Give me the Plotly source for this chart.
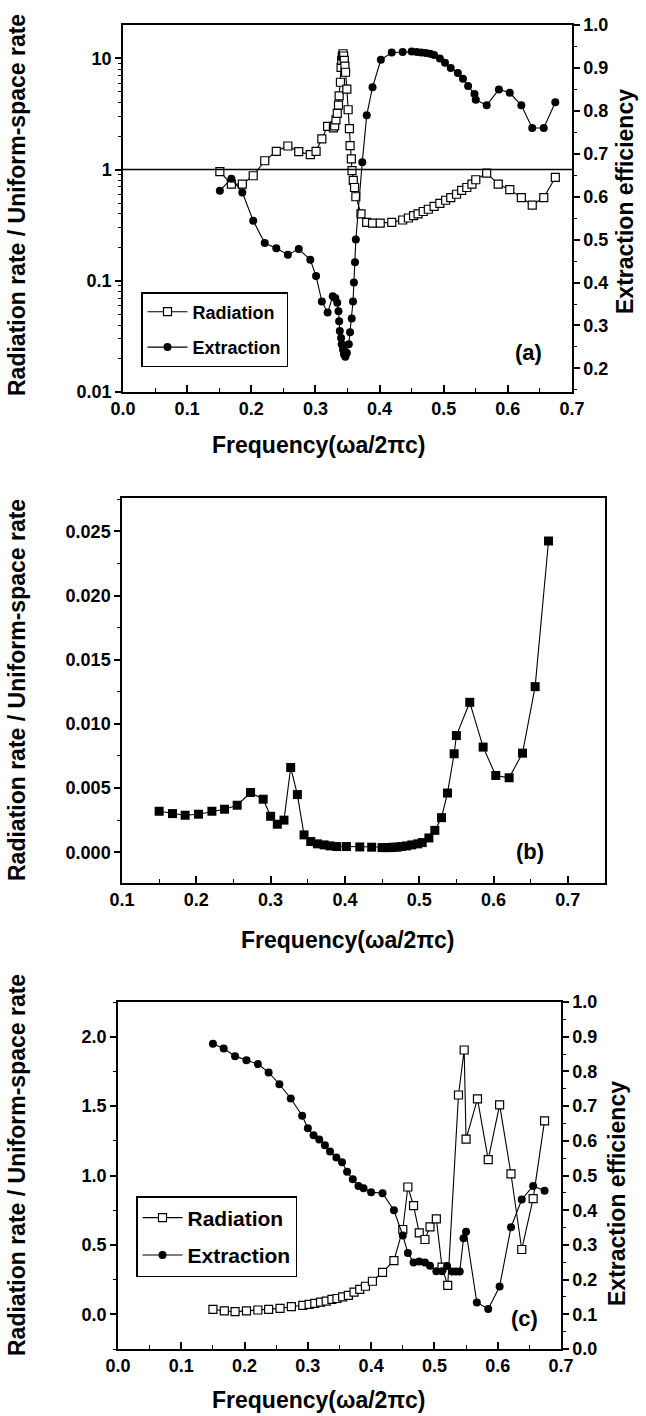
import plotly.graph_objects as go

# ---------------- data ----------------
# panel (a): radiation rate (log, left) and extraction efficiency (right)
rad_a_freq = [0.151, 0.169, 0.186, 0.203, 0.221, 0.239, 0.257, 0.274, 0.292, 0.301,
              0.310, 0.319, 0.328, 0.330, 0.332, 0.334, 0.336, 0.337, 0.339, 0.340,
              0.341, 0.342, 0.343, 0.344, 0.345, 0.346, 0.347, 0.349, 0.351, 0.353,
              0.354, 0.356, 0.357, 0.359, 0.361, 0.363,
              0.371, 0.380, 0.389, 0.401, 0.419, 0.436, 0.445, 0.453, 0.460, 0.468,
              0.476, 0.485, 0.494, 0.503, 0.511, 0.520, 0.528, 0.536, 0.544, 0.550,
              0.567, 0.585, 0.603, 0.621, 0.638, 0.656, 0.674]
rad_a = [0.96, 0.74, 0.74, 0.88, 1.20, 1.46, 1.63, 1.45, 1.36, 1.46,
         1.89, 2.45, 2.37, 2.47, 2.80, 3.20, 3.80, 4.60, 6.10, 8.30,
         9.60, 10.5, 11.0, 10.5, 9.6, 8.5, 7.5, 5.30, 3.45, 2.33,
         1.64, 1.25, 0.98, 0.80, 0.69, 0.57,
         0.40, 0.335, 0.33, 0.33, 0.335, 0.352, 0.367, 0.385, 0.40, 0.42,
         0.44, 0.467, 0.497, 0.53, 0.56, 0.60, 0.65, 0.69, 0.74, 0.81,
         0.93, 0.74, 0.66, 0.56, 0.48, 0.56, 0.85]

ext_a_freq = [0.151, 0.169, 0.186, 0.203, 0.221, 0.239, 0.257, 0.274, 0.292, 0.301,
              0.310, 0.319, 0.327, 0.331, 0.334, 0.336, 0.337, 0.338, 0.340, 0.341,
              0.343, 0.3445, 0.3466, 0.349, 0.352, 0.354, 0.3566, 0.3586, 0.360, 0.3617,
              0.363, 0.373, 0.380, 0.389, 0.402, 0.419, 0.436, 0.450, 0.458, 0.465,
              0.472, 0.479, 0.485, 0.494, 0.502, 0.511, 0.522, 0.530, 0.538, 0.548,
              0.550, 0.567, 0.586, 0.603, 0.621, 0.638, 0.656, 0.674]
ext_a = [0.614, 0.642, 0.610, 0.544, 0.492, 0.480, 0.465, 0.478, 0.453, 0.415,
         0.356, 0.330, 0.368, 0.364, 0.353, 0.333, 0.310, 0.287, 0.271, 0.256,
         0.244, 0.233, 0.227, 0.236, 0.256, 0.284, 0.316, 0.356, 0.400, 0.447,
         0.500, 0.680, 0.790, 0.855, 0.919, 0.936, 0.937, 0.938, 0.937, 0.936,
         0.935, 0.933, 0.930, 0.922, 0.912, 0.900, 0.888, 0.875, 0.858, 0.839,
         0.826, 0.813, 0.850, 0.842, 0.813, 0.760, 0.760, 0.820]

# panel (b): radiation rate
rad_b_freq = [0.150, 0.168, 0.185, 0.203, 0.221, 0.238, 0.255, 0.273, 0.290, 0.300,
              0.309, 0.318, 0.327, 0.336, 0.345, 0.354, 0.363, 0.372, 0.380, 0.389,
              0.402, 0.420, 0.436, 0.450, 0.455, 0.460, 0.465, 0.470, 0.476, 0.483,
              0.490, 0.498, 0.504, 0.513, 0.521, 0.530, 0.538, 0.547, 0.550, 0.568,
              0.586, 0.603, 0.621, 0.639, 0.656, 0.674]
rad_b = [0.00319, 0.00301, 0.00288, 0.00296, 0.00319, 0.00335, 0.00366, 0.00465, 0.00413, 0.00280,
         0.00218, 0.00250, 0.00660, 0.00449, 0.00135, 0.00083, 0.00065, 0.00057, 0.00049, 0.00044,
         0.00044, 0.00041, 0.00039, 0.00036, 0.00036, 0.00036, 0.00039, 0.00039, 0.00044, 0.00049,
         0.00057, 0.00065, 0.00075, 0.00111, 0.00170, 0.00269, 0.00461, 0.00767, 0.00909, 0.01168,
         0.00819, 0.00598, 0.00580, 0.00772, 0.01290, 0.02425]

# panel (c): radiation rate (left) and extraction efficiency (right)
rad_c_freq = [0.150, 0.168, 0.185, 0.203, 0.221, 0.238, 0.256, 0.274, 0.292, 0.302,
              0.311, 0.320, 0.329, 0.338, 0.346, 0.355, 0.364, 0.373, 0.382, 0.391,
              0.402, 0.418, 0.436, 0.450, 0.458, 0.467, 0.476, 0.485, 0.493, 0.503,
              0.512, 0.521, 0.538, 0.547, 0.550, 0.568, 0.585, 0.603, 0.621, 0.638,
              0.656, 0.674]
rad_c = [0.036, 0.024, 0.019, 0.024, 0.031, 0.036, 0.043, 0.055, 0.064, 0.071,
         0.079, 0.088, 0.095, 0.107, 0.114, 0.126, 0.136, 0.160, 0.179, 0.202,
         0.238, 0.302, 0.386, 0.611, 0.917, 0.783, 0.587, 0.539, 0.630, 0.687,
         0.340, 0.208, 1.580, 1.904, 1.262, 1.552, 1.114, 1.509, 1.011, 0.467,
         0.834, 1.394]

ext_c_freq = [0.150, 0.167, 0.185, 0.203, 0.221, 0.238, 0.255, 0.273, 0.291, 0.300,
              0.309, 0.318, 0.327, 0.335, 0.345, 0.354, 0.362, 0.371, 0.380, 0.388,
              0.400, 0.418, 0.436, 0.450, 0.458, 0.467, 0.476, 0.485, 0.493, 0.503,
              0.512, 0.520, 0.528, 0.534, 0.540, 0.546, 0.550, 0.567, 0.585, 0.603,
              0.621, 0.638, 0.656, 0.674]
ext_c = [0.880, 0.866, 0.844, 0.832, 0.821, 0.797, 0.763, 0.722, 0.672, 0.636,
         0.616, 0.604, 0.587, 0.569, 0.552, 0.538, 0.511, 0.489, 0.470, 0.463,
         0.452, 0.449, 0.400, 0.327, 0.277, 0.249, 0.252, 0.249, 0.240, 0.224,
         0.224, 0.239, 0.223, 0.223, 0.223, 0.319, 0.338, 0.134, 0.115, 0.180,
         0.351, 0.431, 0.470, 0.456]

x_ticks_a = [0.0, 0.1, 0.2, 0.3, 0.4, 0.5, 0.6, 0.7]
x_ticks_b = [0.1, 0.2, 0.3, 0.4, 0.5, 0.6, 0.7]
log_ticks = [0.01, 0.1, 1, 10]
log_tick_text = ["0.01", "0.1", "1", "10"]

# ---------------- style ----------------
W, H = 646, 1416
FONT = "Liberation Sans, Arial, Helvetica, sans-serif"
TICKFONT = dict(family=FONT, size=18, color="black", weight="bold")
TITLEFONT = dict(family=FONT, size=23, color="black", weight="bold")


def px_x(p):
    return p / W


def px_y(p):
    return 1 - p / H


fig = go.Figure()

open_sq = dict(symbol="square", size=8, color="white", line=dict(color="black", width=1.2))
dot = dict(symbol="circle", size=8, color="black", line=dict(width=0))
line = dict(color="black", width=1.1)

fig.add_trace(go.Scatter(x=rad_a_freq, y=rad_a, mode="lines+markers", name="Radiation",
                         marker=open_sq, line=line, xaxis="x", yaxis="y",
                         legend="legend", legendgroup="ra"))
fig.add_trace(go.Scatter(x=ext_a_freq, y=ext_a, mode="lines+markers", name="Extraction",
                         marker=dot, line=line, xaxis="x", yaxis="y2",
                         legend="legend", legendgroup="ea"))
fig.add_trace(go.Scatter(x=rad_b_freq, y=rad_b, mode="lines+markers", name="Radiation (b)",
                         marker=dict(symbol="square", size=9, color="black"), line=line,
                         xaxis="x2", yaxis="y3", showlegend=False))
fig.add_trace(go.Scatter(x=rad_c_freq, y=rad_c, mode="lines+markers", name="Radiation",
                         marker=open_sq, line=line, xaxis="x3", yaxis="y4",
                         legend="legend2", legendgroup="rc"))
fig.add_trace(go.Scatter(x=ext_c_freq, y=ext_c, mode="lines+markers", name="Extraction",
                         marker=dot, line=line, xaxis="x3", yaxis="y5",
                         legend="legend2", legendgroup="ec"))

# y = 1 reference line in (a)
fig.add_shape(type="line", xref="x domain", yref="y", x0=0, x1=1, y0=1, y1=1,
              line=dict(color="black", width=1.5))

common_x = dict(showline=True, linecolor="black", linewidth=1.5, mirror=True,
                ticks="inside", ticklen=7, tickwidth=1.5, tickcolor="black",
                showgrid=False, zeroline=False, tickfont=TICKFONT, tickformat=".1f",
                automargin=False,
                minor=dict(ticks="inside", ticklen=4, tickwidth=1.2, tickcolor="black", dtick=0.05))
common_y = dict(showline=True, linecolor="black", linewidth=1.5,
                ticks="outside", ticklen=6, tickwidth=1.5, tickcolor="black",
                showgrid=False, zeroline=False, tickfont=TICKFONT, automargin=False)

dom_a_x = [px_x(123), px_x(572)]
dom_a_y = [px_y(392), px_y(25)]
dom_b_x = [px_x(122), px_x(605)]
dom_b_y = [px_y(883), px_y(498)]
dom_c_x = [px_x(118), px_x(561)]
dom_c_y = [px_y(1349), px_y(1002)]

fig.update_layout(
    width=W, height=H, margin=dict(l=0, r=0, t=0, b=0, autoexpand=False),
    paper_bgcolor="white", plot_bgcolor="white",
    font=dict(family=FONT, color="black", weight="bold"),
    xaxis=dict(common_x, domain=dom_a_x, anchor="y", range=[0, 0.7], tickvals=x_ticks_a),
    yaxis=dict(common_y, domain=dom_a_y, anchor="x", type="log", range=[-2, 1.3],
               tickvals=log_ticks, ticktext=log_tick_text, mirror=True,
               minor=dict(ticks="outside", ticklen=3, tickwidth=1.2, tickcolor="black",
                          tickvals=[m * d for d in (0.01, 0.1, 1, 10) for m in range(2, 10)])),
    yaxis2=dict(common_y, overlaying="y", anchor="x", side="right", range=[0.145, 1.0],
                dtick=0.1, tickformat=".1f",
                minor=dict(ticks="outside", ticklen=3, tickwidth=1.2, tickcolor="black", dtick=0.05)),
    xaxis2=dict(common_x, domain=dom_b_x, anchor="y3", range=[0.1, 0.75], tickvals=x_ticks_b),
    yaxis3=dict(common_y, domain=dom_b_y, anchor="x2", range=[-0.0024, 0.0276], mirror=True,
                dtick=0.005, tickformat=".3f",
                minor=dict(ticks="outside", ticklen=3, tickwidth=1.2, tickcolor="black", dtick=0.0025)),
    xaxis3=dict(common_x, domain=dom_c_x, anchor="y4", range=[0, 0.7], tickvals=x_ticks_a),
    yaxis4=dict(common_y, domain=dom_c_y, anchor="x3", range=[-0.25, 2.25], mirror=True,
                dtick=0.5, tickformat=".1f",
                minor=dict(ticks="outside", ticklen=3, tickwidth=1.2, tickcolor="black", dtick=0.25)),
    yaxis5=dict(common_y, overlaying="y4", anchor="x3", side="right", range=[0, 1.0],
                dtick=0.1, tickformat=".1f",
                minor=dict(ticks="outside", ticklen=3, tickwidth=1.2, tickcolor="black", dtick=0.05)),
    legend=dict(x=px_x(141), y=px_y(292), xanchor="left", yanchor="top",
                bgcolor="white", bordercolor="black", borderwidth=1.5,
                font=dict(family=FONT, size=18, color="black", weight="bold"),
                tracegroupgap=9, itemwidth=40),
    legend2=dict(x=px_x(136), y=px_y(1196), xanchor="left", yanchor="top",
                 bgcolor="white", bordercolor="black", borderwidth=1.5,
                 font=dict(family=FONT, size=21, color="black", weight="bold"),
                 tracegroupgap=7, itemwidth=40),
    showlegend=True,
)

annos = [
    # x-axis titles
    dict(text="Frequency(ωa/2πc)", x=px_x(318), y=px_y(445), font=TITLEFONT),
    dict(text="Frequency(ωa/2πc)", x=px_x(347), y=px_y(940), font=TITLEFONT),
    dict(text="Frequency(ωa/2πc)", x=px_x(318), y=px_y(1400), font=TITLEFONT),
    # y-axis titles
    dict(text="Radiation rate / Uniform-space rate", x=px_x(17), y=px_y(205), textangle=-90, font=TITLEFONT),
    dict(text="Radiation rate / Uniform-space rate", x=px_x(17), y=px_y(690), textangle=-90, font=TITLEFONT),
    dict(text="Radiation rate / Uniform-space rate", x=px_x(17), y=px_y(1165), textangle=-90, font=TITLEFONT),
    dict(text="Extraction efficiency", x=px_x(625), y=px_y(202), textangle=-90, font=TITLEFONT),
    dict(text="Extraction efficiency", x=px_x(617), y=px_y(1194), textangle=-90, font=TITLEFONT),
    # panel labels
    dict(text="(a)", x=px_x(528), y=px_y(352), font=dict(TITLEFONT, size=22)),
    dict(text="(b)", x=px_x(530), y=px_y(852), font=dict(TITLEFONT, size=22)),
    dict(text="(c)", x=px_x(524), y=px_y(1318), font=dict(TITLEFONT, size=22)),
]
for a in annos:
    a.update(xref="paper", yref="paper", showarrow=False, xanchor="center", yanchor="middle")
fig.update_layout(annotations=annos)

fig.write_html("out.html", config={"displayModeBar": False},
               post_script="document.body.style.margin='0';document.body.style.overflow='hidden';")
